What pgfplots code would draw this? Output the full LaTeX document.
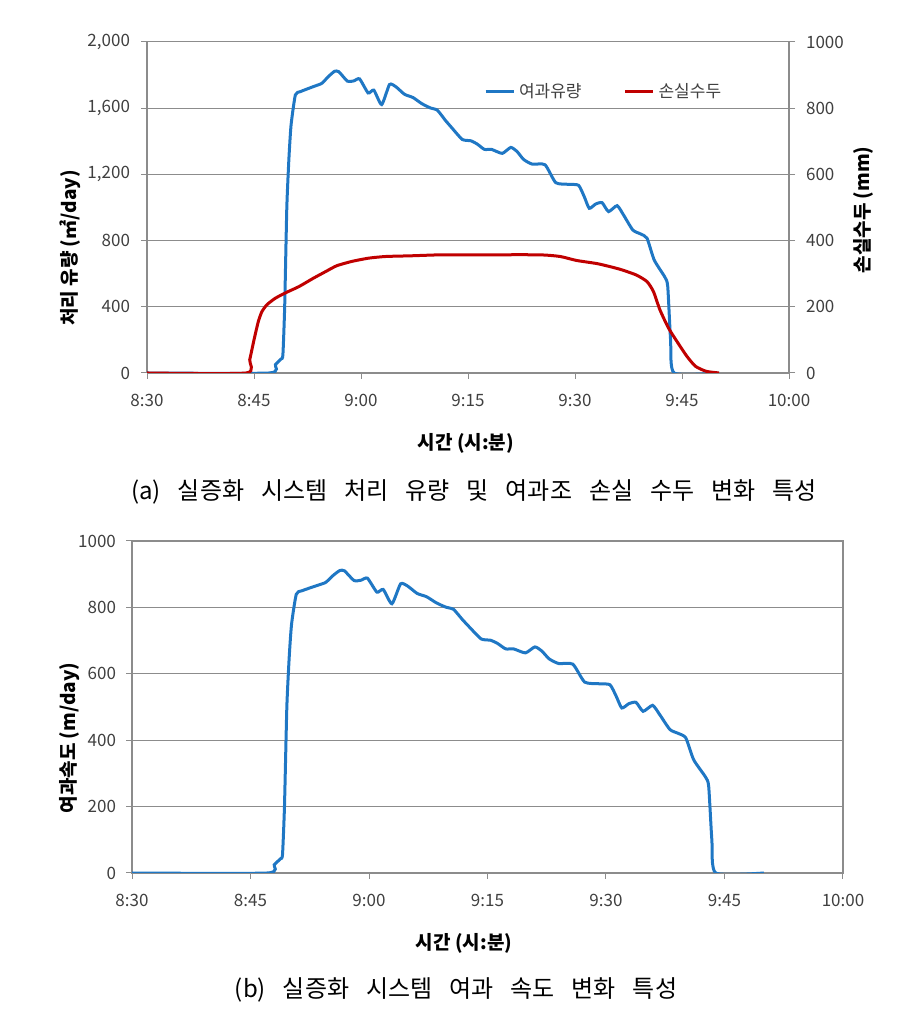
\documentclass[border=0pt]{standalone}
\usepackage{pgfplots}
\pgfplotsset{compat=1.18}
\usepackage{fontspec}
\setmainfont{Noto Sans CJK KR}
\definecolor{flowblue}{RGB}{31,119,196}
\definecolor{lossred}{RGB}{192,0,0}
\definecolor{gridgray}{RGB}{140,140,140}
\definecolor{txtgray}{RGB}{64,64,64}

\pgfplotstableread{
t v
0 0
17.1 0
18.0 50
18.8 85
19.05 110
19.3 400
19.6 1000
19.9 1300
20.2 1500
20.8 1680
21.5 1700
23.3 1730
24.5 1750
25.4 1790
26.3 1823
26.9 1820
28.1 1763
29.0 1765
29.8 1777
31.0 1692
31.8 1709
32.9 1622
34.0 1743
34.9 1729
36.1 1684
37.3 1664
38.5 1628
39.7 1602
40.7 1588
41.8 1528
42.7 1483
44.2 1411
45.4 1403
46.3 1383
47.3 1351
48.3 1351
49.8 1327
51.0 1363
51.9 1337
52.8 1290
54.0 1262
55.8 1258
57.3 1150
59.1 1140
60.5 1134
61.3 1065
62.0 995
62.9 1021
63.8 1029
64.7 975
65.9 1011
66.8 955
68.1 864
69.2 840
70.1 814
71.1 683
72.6 579
73.0 523
73.4 200
73.9 0
80.0 0
}\flowtable

\pgfplotstableread{
t v
0 0
13.9 0
14.4 40
15.0 100
15.6 155
16.1 185
16.8 206
18.0 226
19.5 243
21.3 261
23.3 286
25.1 307
26.6 324
28.7 337
31.1 347
33.5 352
37.0 354
41.2 357
46.0 357
54.9 357
57.9 352
60.2 340
63.2 330
66.2 314
68.6 296
70.1 276
71.0 246
71.9 191
73.1 136
74.3 95
75.7 50
76.9 20
78.4 5
80.2 0
}\losstable

\pgfplotstableread{
t v
0 0
17.1 0
18.0 25
18.8 43
19.05 55
19.3 200
19.6 500
19.9 650
20.2 750
20.8 840
21.5 850
23.3 865
24.5 875
25.4 895
26.3 911
26.9 910
28.1 881
29.0 882
29.8 888
31.0 846
31.8 854
32.9 811
34.0 871
34.9 864
36.1 842
37.3 832
38.5 814
39.7 801
40.7 794
41.8 764
42.7 741
44.2 705
45.4 701
46.3 691
47.3 675
48.3 675
49.8 663
51.0 681
51.9 668
52.8 645
54.0 631
55.8 629
57.3 575
59.1 570
60.5 567
61.3 532
62.0 497
62.9 510
63.8 514
64.7 487
65.9 505
66.8 477
68.1 432
69.2 420
70.1 407
71.1 341
72.6 289
73.0 261
73.4 100
73.9 0
80.0 0
}\veltable

\pgfplotsset{
  exstyle/.style={
    scale only axis,
    xmin=0, xmax=90,
    xtick={0,15,30,45,60,75,90},
    xticklabels={8:30,8:45,9:00,9:15,9:30,9:45,10:00},
    tick align=outside,
    major tick length=3pt,
    tick style={gridgray, line width=0.5pt},
    axis line style={gridgray, line width=0.6pt},
    ymajorgrids,
    grid style={gridgray, line width=0.5pt},
    ticklabel style={font=\fontsize{8.5}{10}\selectfont, text=txtgray},
    xticklabel style={yshift=-4pt},
    /pgf/number format/assume math mode=true,
    xtick pos=bottom,
  },
}

\begin{document}
\begin{tikzpicture}
\path[use as bounding box] (0,0) rectangle (453pt,510pt);

% ---------- chart (a) ----------
\begin{axis}[exstyle,
  at={(73.5pt,323.5pt)}, anchor=south west,
  width=321pt, height=165.5pt,
  ymin=0, ymax=2000, ytick={0,400,...,2000},
  ytick pos=left,
  yticklabel style={xshift=-2pt},
  axis y line*=left, axis x line*=bottom,
  /pgf/number format/1000 sep={,},
]
\addplot[flowblue, line width=1.5pt, smooth, tension=0.35] table[x=t,y=v] {\flowtable};
\end{axis}

\begin{axis}[exstyle,
  at={(73.5pt,323.5pt)}, anchor=south west,
  width=321pt, height=165.5pt,
  ymin=0, ymax=1000, ytick={0,200,...,1000},
  axis x line=none, axis y line*=right,
  yticklabel style={xshift=2pt},
  ymajorgrids=false,
  /pgf/number format/1000 sep={},
  legend style={at={(0.515,0.85)}, anchor=west, draw=none, fill=none,
    font=\fontsize{8.5}{10}\selectfont, text=txtgray,
    /tikz/every even column/.append style={column sep=19pt}},
  legend columns=2,
  legend image code/.code={\draw[#1] (0pt,0pt) -- (14pt,0pt);},
]
\addlegendimage{flowblue, line width=1.5pt}
\addlegendentry{여과유량}
\addplot[lossred, line width=1.5pt, smooth, tension=0.35] table[x=t,y=v] {\losstable};
\addlegendentry{손실수두}
\end{axis}

\node[rotate=90, font=\fontsize{9.5}{11}\bfseries, text=black] at (35pt,386pt) {처리 유량 (㎡/day)};
\node[rotate=90, font=\fontsize{9.5}{11}\bfseries, text=black] at (431.5pt,405pt) {손실수두 (mm)};
\node[font=\fontsize{9.5}{11}\bfseries, text=black] at (233pt,288.5pt) {시간 (시:분)};
\node[font=\fontsize{12}{14}\selectfont, text=black] at (237pt,264pt) {\spaceskip=8.5pt (a) 실증화 시스템 처리 유량 및 여과조 손실 수두 변화 특성};

% ---------- chart (b) ----------
\begin{axis}[exstyle,
  at={(66pt,73.5pt)}, anchor=south west,
  width=355.5pt, height=166pt,
  ymin=0, ymax=1000, ytick={0,200,...,1000},
  ytick pos=left,
  yticklabel style={xshift=-1.5pt},
  /pgf/number format/1000 sep={},
]
\addplot[flowblue, line width=1.5pt, smooth, tension=0.35] table[x=t,y=v] {\veltable};
\end{axis}

\node[rotate=90, font=\fontsize{9.5}{11}\bfseries, text=black] at (35pt,141pt) {여과속도 (m/day)};
\node[font=\fontsize{9.5}{11}\bfseries, text=black] at (232pt,38.5pt) {시간 (시:분)};
\node[font=\fontsize{12}{14}\selectfont, text=black] at (228pt,15pt) {\spaceskip=8.5pt (b) 실증화 시스템 여과 속도 변화 특성};
\end{tikzpicture}
\end{document}
